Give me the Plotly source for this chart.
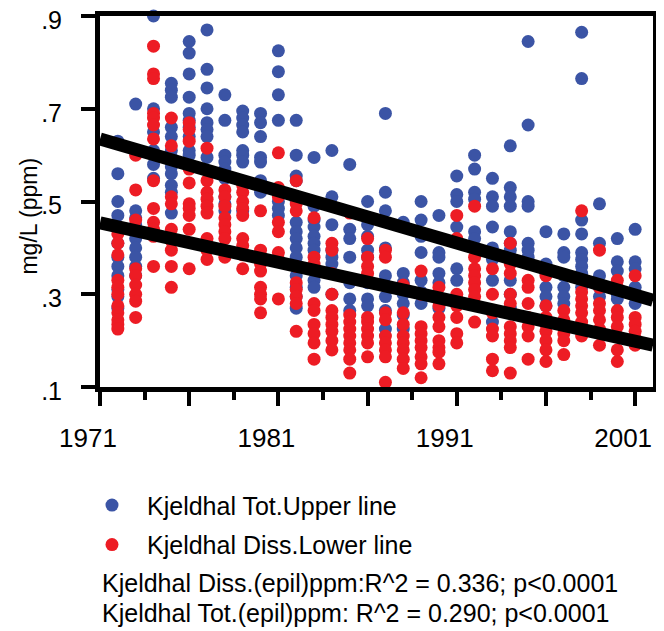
import plotly.graph_objects as go

# ---------------- data ----------------
years = list(range(1972, 2002))

# Kjeldhal Tot. (blue) – one list of mg/L values per year
tot_values = [
    [0.63, 0.56, 0.50, 0.47, 0.41, 0.38, 0.36, 0.34, 0.31, 0.295, 0.27],          # 1972
    [0.71, 0.48, 0.465, 0.45, 0.42, 0.40, 0.38, 0.36, 0.34],                       # 1973
    [0.90, 0.70, 0.65, 0.61, 0.58, 0.55],                                          # 1974
    [0.755, 0.74, 0.725, 0.66, 0.64, 0.61, 0.595, 0.575, 0.56, 0.535, 0.52, 0.475],# 1975
    [0.845, 0.82, 0.775, 0.725, 0.69, 0.675, 0.66, 0.64, 0.61, 0.60],              # 1976
    [0.87, 0.785, 0.745, 0.70, 0.67, 0.655, 0.64, 0.595],                          # 1977
    [0.73, 0.675, 0.60, 0.585, 0.57, 0.55, 0.51, 0.495, 0.48],                     # 1978
    [0.695, 0.68, 0.665, 0.65, 0.61, 0.60, 0.585, 0.54, 0.48],                     # 1979
    [0.69, 0.67, 0.64, 0.595, 0.585, 0.545, 0.52],                                 # 1980
    [0.825, 0.78, 0.73, 0.675, 0.50, 0.485, 0.47],                                 # 1981
    [0.675, 0.60, 0.555, 0.545, 0.50, 0.455, 0.435, 0.42, 0.40, 0.38, 0.34, 0.315, 0.295, 0.27],  # 1982
    [0.595, 0.49, 0.46, 0.445, 0.425, 0.41, 0.395, 0.33, 0.315],                   # 1983
    [0.61, 0.51, 0.45, 0.395, 0.38, 0.365, 0.30],                                  # 1984
    [0.58, 0.44, 0.42, 0.38, 0.325, 0.29, 0.265],                                  # 1985
    [0.50, 0.45, 0.425, 0.395, 0.38, 0.325, 0.29, 0.275],                          # 1986
    [0.69, 0.52, 0.48, 0.40, 0.34, 0.32, 0.295, 0.265, 0.225],                     # 1987
    [0.455, 0.345, 0.325, 0.30, 0.28, 0.255, 0.225],                               # 1988
    [0.50, 0.46, 0.425, 0.39, 0.33, 0.305, 0.28],                                  # 1989
    [0.47, 0.39, 0.38, 0.345, 0.325, 0.27],                                        # 1990
    [0.555, 0.515, 0.50, 0.445, 0.355, 0.33],                                      # 1991
    [0.60, 0.57, 0.52, 0.505, 0.435, 0.42],                                        # 1992
    [0.55, 0.51, 0.49, 0.445, 0.40, 0.375, 0.33, 0.24],                            # 1993
    [0.62, 0.53, 0.51, 0.49, 0.435, 0.41, 0.395, 0.33, 0.30, 0.27],                # 1994
    [0.845, 0.665, 0.50, 0.49, 0.41, 0.395, 0.38],                                 # 1995
    [0.435, 0.365, 0.345, 0.315, 0.295, 0.275],                                    # 1996
    [0.43, 0.39, 0.38, 0.34, 0.315, 0.295, 0.28],                                  # 1997
    [0.865, 0.765, 0.46, 0.43, 0.39, 0.375, 0.36, 0.345, 0.33, 0.315],             # 1998
    [0.495, 0.41, 0.34, 0.315, 0.295],                                             # 1999
    [0.42, 0.37, 0.35, 0.30, 0.29],                                                # 2000
    [0.44, 0.37, 0.355, 0.315, 0.295, 0.28],                                       # 2001
]

# Kjeldhal Diss. (red)
diss_values = [
    [0.43, 0.41, 0.385, 0.33, 0.315, 0.30, 0.275, 0.26, 0.245, 0.235, 0.225],      # 1972
    [0.60, 0.525, 0.46, 0.355, 0.34, 0.32, 0.30, 0.285, 0.25],                     # 1973
    [0.835, 0.775, 0.765, 0.69, 0.68, 0.665, 0.635, 0.545, 0.485, 0.455, 0.44, 0.425, 0.36],  # 1974
    [0.68, 0.62, 0.51, 0.495, 0.44, 0.415, 0.395, 0.36, 0.315],                    # 1975
    [0.67, 0.655, 0.63, 0.57, 0.54, 0.495, 0.485, 0.47, 0.44, 0.355],              # 1976
    [0.615, 0.545, 0.52, 0.505, 0.49, 0.475, 0.42, 0.395, 0.375],                  # 1977
    [0.525, 0.51, 0.49, 0.465, 0.45, 0.435, 0.42, 0.38],                           # 1978
    [0.535, 0.52, 0.50, 0.485, 0.47, 0.42, 0.405, 0.385, 0.355],                   # 1979
    [0.48, 0.395, 0.38, 0.365, 0.35, 0.315, 0.30, 0.29, 0.26],                     # 1980
    [0.605, 0.53, 0.51, 0.455, 0.435, 0.39, 0.375, 0.29],                          # 1981
    [0.545, 0.495, 0.48, 0.36, 0.325, 0.31, 0.295, 0.28, 0.22],                    # 1982
    [0.465, 0.38, 0.365, 0.28, 0.265, 0.235, 0.215, 0.195, 0.16],                  # 1983
    [0.41, 0.395, 0.345, 0.30, 0.265, 0.25, 0.235, 0.22, 0.20, 0.18],              # 1984
    [0.475, 0.255, 0.24, 0.225, 0.21, 0.195, 0.18, 0.16, 0.13],                    # 1985
    [0.42, 0.38, 0.36, 0.345, 0.25, 0.24, 0.225, 0.21, 0.195, 0.165],              # 1986
    [0.395, 0.38, 0.26, 0.245, 0.21, 0.195, 0.18, 0.165, 0.11],                    # 1987
    [0.32, 0.26, 0.235, 0.21, 0.195, 0.18, 0.16, 0.14],                            # 1988
    [0.35, 0.30, 0.23, 0.215, 0.20, 0.185, 0.165, 0.15, 0.12],                     # 1989
    [0.315, 0.275, 0.25, 0.23, 0.20, 0.185, 0.175, 0.15],                          # 1990
    [0.47, 0.42, 0.30, 0.29, 0.275, 0.25, 0.215, 0.195],                           # 1991
    [0.49, 0.38, 0.355, 0.34, 0.325, 0.31, 0.295, 0.28, 0.24],                     # 1992
    [0.355, 0.30, 0.26, 0.225, 0.21, 0.16, 0.135],                                 # 1993
    [0.41, 0.365, 0.345, 0.30, 0.28, 0.23, 0.215, 0.20, 0.185, 0.13],              # 1994
    [0.33, 0.315, 0.28, 0.25, 0.23, 0.21, 0.16],                                   # 1995
    [0.34, 0.275, 0.25, 0.235, 0.22, 0.20, 0.18, 0.155],                           # 1996
    [0.265, 0.245, 0.23, 0.215, 0.20, 0.17],                                       # 1997
    [0.48, 0.305, 0.29, 0.275, 0.26, 0.24, 0.225, 0.21],                           # 1998
    [0.395, 0.315, 0.28, 0.265, 0.245, 0.225, 0.19],                               # 1999
    [0.33, 0.315, 0.265, 0.25, 0.23, 0.21, 0.18, 0.155],                           # 2000
    [0.34, 0.25, 0.235, 0.22, 0.205, 0.19],                                        # 2001
]

# regression lines (end points)
fit_years = [1971, 2002]
tot_fit = [0.635, 0.287]
diss_fit = [0.454, 0.190]

x_tick_vals = [1971, 1976, 1981, 1986, 1991, 1996, 2001]
x_tick_text = ["1971", "", "1981", "", "1991", "", "2001"]
x_minor_vals = [1973.5, 1978.5, 1983.5, 1988.5, 1993.5, 1998.5]
y_tick_vals = [0.1, 0.3, 0.5, 0.7, 0.9]
y_tick_text = [".1", ".3", ".5", ".7", ".9"]

legend_names = ["Kjeldhal Tot.Upper line", "Kjeldhal Diss.Lower line"]
stat_lines = [
    "Kjeldhal Diss.(epil)ppm:R^2 = 0.336; p<0.0001",
    "Kjeldhal Tot.(epil)ppm: R^2 = 0.290; p<0.0001",
]

BLUE = "#3b54a5"
RED = "#ed1c24"
FONT = "Liberation Sans, Arial, sans-serif"


def flatten(vals):
    xs, ys = [], []
    for yr, lst in zip(years, vals):
        for v in lst:
            xs.append(yr)
            ys.append(v)
    return xs, ys


tx, ty = flatten(tot_values)
dx, dy = flatten(diss_values)

fig = go.Figure()
fig.add_trace(go.Scatter(x=tx, y=ty, mode="markers", name=legend_names[0],
                         marker=dict(color=BLUE, size=13, line=dict(width=0)),
                         cliponaxis=False, legendgroup="a"))
fig.add_trace(go.Scatter(x=dx, y=dy, mode="markers", name=legend_names[1],
                         marker=dict(color=RED, size=13, line=dict(width=0)),
                         cliponaxis=False, legendgroup="b"))
fig.add_trace(go.Scatter(x=fit_years, y=tot_fit, mode="lines", showlegend=False,
                         line=dict(color="black", width=13)))
fig.add_trace(go.Scatter(x=fit_years, y=diss_fit, mode="lines", showlegend=False,
                         line=dict(color="black", width=13)))

# the page body adds an 8px margin, so the figure is 8px smaller than the window
fig.update_layout(
    width=656, height=623,
    margin=dict(l=92, r=11, t=8, b=244, autoexpand=False),
    paper_bgcolor="white", plot_bgcolor="white",
    font=dict(family=FONT, color="black", size=25),
    showlegend=True,
    legend=dict(x=-0.0416, y=-0.257, xanchor="left", yanchor="top",
                font=dict(size=25, family=FONT), itemwidth=60,
                tracegroupgap=4, bgcolor="rgba(0,0,0,0)"),
)

fig.update_xaxes(range=[1971, 2002], showgrid=False, zeroline=False, automargin=False,
                 showline=True, linewidth=5, linecolor="black", mirror=True,
                 tickmode="array", tickvals=x_tick_vals, ticktext=x_tick_text,
                 ticks="outside", ticklen=14, tickwidth=4, tickcolor="black",
                 ticklabelstandoff=10, ticklabelshift=-12, ticklabeloverflow="allow",
                 tickfont=dict(size=26, family=FONT),
                 minor=dict(tickmode="array", tickvals=x_minor_vals, ticks="outside",
                            ticklen=8, tickwidth=4, tickcolor="black", showgrid=False))
fig.update_yaxes(range=[0.1, 0.9], showgrid=False, zeroline=False, automargin=False,
                 showline=True, linewidth=5, linecolor="black", mirror=True,
                 tickmode="array", tickvals=y_tick_vals, ticktext=y_tick_text,
                 ticks="outside", ticklen=14, tickwidth=4, tickcolor="black",
                 ticklabelstandoff=14, ticklabelshift=4, ticklabeloverflow="allow",
                 tickfont=dict(size=25, family=FONT))

fig.add_annotation(text="mg/L (ppm)", textangle=-90, xref="paper", yref="paper",
                   x=-0.128, y=0.46, xanchor="center", yanchor="middle",
                   showarrow=False, font=dict(size=23, family=FONT))
for txt, yy in zip(stat_lines, [-0.528, -0.609]):
    fig.add_annotation(text=txt, xref="paper", yref="paper", x=0.0, y=yy,
                       xanchor="left", yanchor="middle", showarrow=False,
                       font=dict(size=25, family=FONT))

fig.write_html("out.html")
